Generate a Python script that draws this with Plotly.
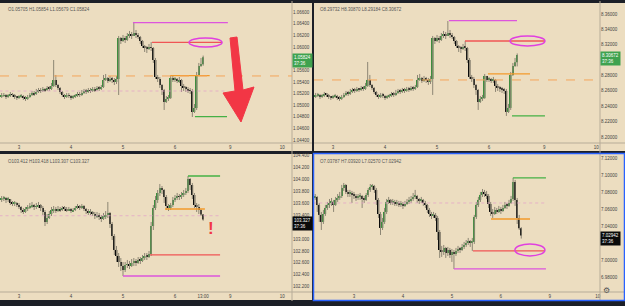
import plotly.graph_objects as go

W, H = 625, 306
def px(x): return x / W
def py(y): return 1 - y / H

BG = "#ECDDC0"
DARK = "#1c1f27"
AXLINE = "#B7AC98"
UP = "#3E8E3E"
DOWN = "#0a0a0a"
WICK = "#8d8674"
TXT = "#444444"
FONT = "Liberation Sans, Arial"

# ---------------- data ----------------
TL_HOURS = list(range(-8, 86))
TL_OPEN0 = 1.05141
TL_CLOSE = [1.05158, 1.05175, 1.05141, 1.05158, 1.05192, 1.05175, 1.05141, 1.05124, 1.05141, 1.05158,
            1.05124, 1.05106, 1.05141, 1.05175, 1.05210, 1.05192, 1.05227, 1.05261, 1.05244, 1.05279,
            1.05261, 1.05296, 1.05279, 1.05330, 1.05434, 1.05347, 1.05296, 1.05227, 1.05175, 1.05141,
            1.05175, 1.05158, 1.05124, 1.05141, 1.05158, 1.05192, 1.05175, 1.05210, 1.05244, 1.05227,
            1.05261, 1.05244, 1.05279, 1.05261, 1.05296, 1.05279, 1.05313, 1.05434, 1.05468, 1.05416,
            1.05451, 1.05434, 1.05399, 1.05451, 1.06157, 1.06106, 1.06157, 1.06123, 1.06192, 1.06226,
            1.06192, 1.06243, 1.06209, 1.06175, 1.06106, 1.06019, 1.05985, 1.05968, 1.06002, 1.05985,
            1.05778, 1.05485, 1.05451, 1.05347, 1.05261, 1.05055, 1.05106, 1.05124, 1.05468, 1.05434,
            1.05451, 1.05416, 1.05434, 1.05330, 1.05296, 1.05279, 1.05261, 1.05244, 1.04882, 1.04951,
            1.05520, 1.05675, 1.05705, 1.05824]
TL_HIGH = [1.05210, 1.05210, 1.05192, 1.05192, 1.05227, 1.05210, 1.05192, 1.05158, 1.05175, 1.05192,
           1.05175, 1.05158, 1.05175, 1.05210, 1.05244, 1.05244, 1.05279, 1.05296, 1.05296, 1.05313,
           1.05296, 1.05330, 1.05330, 1.05382, 1.05778, 1.05520, 1.05365, 1.05313, 1.05244, 1.05192,
           1.05210, 1.05210, 1.05175, 1.05175, 1.05192, 1.05227, 1.05227, 1.05261, 1.05279, 1.05279,
           1.05296, 1.05296, 1.05313, 1.05313, 1.05330, 1.05330, 1.05347, 1.05520, 1.05537, 1.05485,
           1.05503, 1.05485, 1.05468, 1.05503, 1.06192, 1.06175, 1.06209, 1.06192, 1.06243, 1.06278,
           1.06261, 1.06433, 1.06295, 1.06243, 1.06192, 1.06123, 1.06037, 1.06019, 1.06054, 1.06088,
           1.06002, 1.05813, 1.05520, 1.05485, 1.05365, 1.05279, 1.05158, 1.05175, 1.05503, 1.05503,
           1.05485, 1.05468, 1.05485, 1.05451, 1.05365, 1.05330, 1.05313, 1.05296, 1.05279, 1.05020,
           1.05572, 1.05727, 1.05813, 1.05854]
TL_LOW = [1.05124, 1.05141, 1.05106, 1.05124, 1.05141, 1.05141, 1.05106, 1.05089, 1.05106, 1.05124,
          1.05089, 1.05072, 1.05089, 1.05124, 1.05158, 1.05158, 1.05175, 1.05210, 1.05210, 1.05227,
          1.05227, 1.05244, 1.05244, 1.05261, 1.05313, 1.05313, 1.05261, 1.05192, 1.05141, 1.05106,
          1.05124, 1.05124, 1.05089, 1.05106, 1.05124, 1.05141, 1.05141, 1.05158, 1.05192, 1.05192,
          1.05210, 1.05210, 1.05227, 1.05227, 1.05244, 1.05244, 1.05261, 1.05296, 1.05416, 1.05382,
          1.05399, 1.05382, 1.05347, 1.05365, 1.05175, 1.06054, 1.06088, 1.06071, 1.06106, 1.06157,
          1.06140, 1.06192, 1.06157, 1.06140, 1.06054, 1.05985, 1.05916, 1.05899, 1.05950, 1.05933,
          1.05727, 1.05451, 1.05399, 1.05296, 1.05175, 1.04917, 1.05037, 1.05072, 1.05106, 1.05399,
          1.05399, 1.05382, 1.05382, 1.05227, 1.05244, 1.05227, 1.05210, 1.05192, 1.04796, 1.04865,
          1.04917, 1.05503, 1.05658, 1.05679]

TR_HOURS = list(range(-8, 86))
TR_OPEN0 = 8.2521
TR_CLOSE = [8.2534, 8.2547, 8.2521, 8.2534, 8.2560, 8.2547, 8.2521, 8.2508, 8.2521, 8.2534,
            8.2508, 8.2495, 8.2521, 8.2547, 8.2573, 8.2560, 8.2586, 8.2612, 8.2599, 8.2625,
            8.2612, 8.2638, 8.2625, 8.2664, 8.2742, 8.2677, 8.2638, 8.2586, 8.2547, 8.2521,
            8.2547, 8.2534, 8.2508, 8.2521, 8.2534, 8.2560, 8.2547, 8.2573, 8.2599, 8.2586,
            8.2612, 8.2599, 8.2625, 8.2612, 8.2638, 8.2625, 8.2651, 8.2742, 8.2768, 8.2729,
            8.2755, 8.2742, 8.2716, 8.2755, 8.3288, 8.3249, 8.3288, 8.3262, 8.3314, 8.3340,
            8.3314, 8.3353, 8.3327, 8.3301, 8.3249, 8.3184, 8.3158, 8.3145, 8.3171, 8.3158,
            8.3002, 8.2781, 8.2755, 8.2677, 8.2612, 8.2456, 8.2495, 8.2508, 8.2794, 8.2742,
            8.2755, 8.2729, 8.2742, 8.2664, 8.2638, 8.2625, 8.2612, 8.2599, 8.2326, 8.2378,
            8.2807, 8.2924, 8.29732, 8.30672]
TR_HIGH = [8.2573, 8.2573, 8.2560, 8.2560, 8.2586, 8.2573, 8.2560, 8.2534, 8.2547, 8.2560,
           8.2547, 8.2534, 8.2547, 8.2573, 8.2599, 8.2599, 8.2625, 8.2638, 8.2638, 8.2651,
           8.2638, 8.2664, 8.2664, 8.2703, 8.2976, 8.2807, 8.2690, 8.2651, 8.2599, 8.2560,
           8.2573, 8.2573, 8.2547, 8.2547, 8.2560, 8.2586, 8.2586, 8.2612, 8.2625, 8.2625,
           8.2638, 8.2638, 8.2651, 8.2651, 8.2664, 8.2664, 8.2677, 8.2807, 8.2820, 8.2781,
           8.2794, 8.2781, 8.2768, 8.2794, 8.3314, 8.3301, 8.3327, 8.3314, 8.3353, 8.3379,
           8.3366, 8.3509, 8.3392, 8.3353, 8.3314, 8.3262, 8.3197, 8.3184, 8.3210, 8.3249,
           8.3171, 8.3028, 8.2807, 8.2781, 8.2690, 8.2625, 8.2534, 8.2547, 8.2820, 8.2794,
           8.2781, 8.2768, 8.2781, 8.2755, 8.2690, 8.2664, 8.2651, 8.2638, 8.2625, 8.2430,
           8.2846, 8.2963, 8.3028, 8.30870]
TR_LOW = [8.2508, 8.2521, 8.2495, 8.2508, 8.2521, 8.2521, 8.2495, 8.2482, 8.2495, 8.2508,
          8.2482, 8.2469, 8.2482, 8.2508, 8.2534, 8.2534, 8.2547, 8.2573, 8.2573, 8.2586,
          8.2586, 8.2599, 8.2599, 8.2612, 8.2651, 8.2651, 8.2612, 8.2560, 8.2521, 8.2495,
          8.2508, 8.2508, 8.2482, 8.2495, 8.2508, 8.2521, 8.2521, 8.2534, 8.2560, 8.2560,
          8.2573, 8.2573, 8.2586, 8.2586, 8.2599, 8.2599, 8.2612, 8.2638, 8.2729, 8.2703,
          8.2716, 8.2703, 8.2677, 8.2690, 8.2547, 8.3210, 8.3236, 8.3223, 8.3249, 8.3288,
          8.3275, 8.3314, 8.3288, 8.3275, 8.3210, 8.3158, 8.3106, 8.3093, 8.3132, 8.3119,
          8.2963, 8.2755, 8.2716, 8.2638, 8.2547, 8.2352, 8.2443, 8.2469, 8.2495, 8.2716,
          8.2716, 8.2703, 8.2703, 8.2586, 8.2599, 8.2586, 8.2573, 8.2560, 8.2274, 8.2313,
          8.2352, 8.2794, 8.2911, 8.29184]

BL_HOURS = list(range(-8, 86))
BL_OPEN0 = 103.656
BL_CLOSE = [103.673, 103.690, 103.656, 103.673, 103.606, 103.589, 103.606, 103.572, 103.539, 103.488,
            103.455, 103.505, 103.522, 103.555, 103.572, 103.539, 103.555, 103.572, 103.522, 103.455,
            103.287, 103.354, 103.421, 103.488, 103.505, 103.471, 103.505, 103.488, 103.522, 103.505,
            103.488, 103.505, 103.471, 103.488, 103.522, 103.539, 103.522, 103.555, 103.505, 103.471,
            103.438, 103.455, 103.421, 103.387, 103.404, 103.371, 103.337, 103.387, 103.404, 103.438,
            103.253, 103.051, 102.817, 102.716, 102.615, 102.548, 102.481, 102.565, 102.581, 102.548,
            102.598, 102.615, 102.598, 102.649, 102.632, 102.682, 102.716, 102.699, 102.749, 103.219,
            103.522, 103.656, 103.774, 103.858, 103.824, 103.707, 103.555, 103.522, 103.572, 103.656,
            103.690, 103.723, 103.707, 103.740, 103.774, 103.807, 104.009, 103.908, 103.740, 103.572,
            103.539, 103.488, 103.412, 103.327]
BL_HIGH = [103.723, 103.723, 103.707, 103.707, 103.673, 103.639, 103.639, 103.623, 103.606, 103.555,
           103.522, 103.539, 103.572, 103.606, 103.623, 103.589, 103.606, 103.623, 103.589, 103.555,
           103.488, 103.421, 103.471, 103.539, 103.555, 103.539, 103.555, 103.539, 103.555, 103.555,
           103.539, 103.539, 103.522, 103.522, 103.555, 103.589, 103.572, 103.589, 103.572, 103.522,
           103.505, 103.505, 103.471, 103.455, 103.455, 103.438, 103.404, 103.438, 103.471, 103.623,
           103.455, 103.287, 103.085, 102.884, 102.766, 102.682, 102.615, 102.615, 102.649, 102.632,
           102.665, 102.682, 102.665, 102.699, 102.699, 102.733, 102.766, 102.766, 102.800, 103.287,
           103.572, 103.723, 103.824, 103.925, 103.891, 103.841, 103.740, 103.589, 103.606, 103.707,
           103.740, 103.774, 103.757, 103.791, 103.824, 103.858, 104.059, 104.025, 103.942, 103.774,
           103.606, 103.589, 103.505, 103.418]
BL_LOW = [103.623, 103.639, 103.606, 103.623, 103.572, 103.555, 103.555, 103.539, 103.505, 103.438,
          103.421, 103.438, 103.471, 103.505, 103.522, 103.488, 103.505, 103.522, 103.471, 103.404,
          103.219, 103.253, 103.337, 103.387, 103.438, 103.438, 103.455, 103.455, 103.471, 103.471,
          103.455, 103.471, 103.438, 103.455, 103.471, 103.505, 103.488, 103.505, 103.471, 103.421,
          103.404, 103.404, 103.387, 103.337, 103.354, 103.320, 103.287, 103.320, 103.337, 103.354,
          103.186, 102.984, 102.733, 102.615, 102.531, 102.464, 102.380, 102.447, 102.514, 102.497,
          102.531, 102.548, 102.548, 102.581, 102.581, 102.615, 102.649, 102.649, 102.682, 102.716,
          103.152, 103.488, 103.606, 103.723, 103.757, 103.606, 103.488, 103.471, 103.488, 103.539,
          103.623, 103.656, 103.656, 103.673, 103.707, 103.740, 103.774, 103.824, 103.673, 103.522,
          103.455, 103.421, 103.387, 103.307]

BR_HOURS = list(range(-19, 83))
BR_OPEN0 = 7.0736
BR_CLOSE = [7.0748, 7.0654, 7.0536, 7.0453, 7.0547, 7.0618, 7.0654, 7.0677, 7.0689, 7.0654,
            7.0713, 7.0736, 7.0760, 7.0854, 7.0890, 7.0807, 7.0783, 7.0795, 7.0772, 7.0760,
            7.0736, 7.0748, 7.0760, 7.0724, 7.0713, 7.0772, 7.0831, 7.0866, 7.0878, 7.0831,
            7.0713, 7.0547, 7.0382, 7.0453, 7.0571, 7.0689, 7.0713, 7.0677, 7.0689, 7.0665,
            7.0677, 7.0654, 7.0665, 7.0642, 7.0665, 7.0689, 7.0701, 7.0724, 7.0748, 7.0760,
            7.0724, 7.0701, 7.0713, 7.0677, 7.0654, 7.0595, 7.0547, 7.0524, 7.0536, 7.0500,
            7.0335, 7.0122, 7.0099, 7.0146, 7.0087, 7.0122, 7.0063, 7.0099, 7.0075, 7.0111,
            7.0134, 7.0122, 7.0158, 7.0181, 7.0205, 7.0229, 7.0205, 7.0217, 7.0512, 7.0654,
            7.0713, 7.0772, 7.0807, 7.0783, 7.0760, 7.0665, 7.0571, 7.0547, 7.0595, 7.0571,
            7.0606, 7.0583, 7.0618, 7.0654, 7.0642, 7.0677, 7.0724, 7.0925, 7.0713, 7.0500,
            7.03787, 7.02942]
BR_HIGH = [7.0783, 7.0760, 7.0677, 7.0571, 7.0595, 7.0654, 7.0689, 7.0724, 7.0736, 7.0713,
           7.0748, 7.0783, 7.0807, 7.0890, 7.0913, 7.0901, 7.0831, 7.0831, 7.0819, 7.0807,
           7.0783, 7.0783, 7.0795, 7.0772, 7.0760, 7.0795, 7.0854, 7.0901, 7.0901, 7.0890,
           7.0854, 7.0736, 7.0571, 7.0500, 7.0618, 7.0724, 7.0748, 7.0724, 7.0724, 7.0713,
           7.0713, 7.0701, 7.0701, 7.0689, 7.0701, 7.0724, 7.0748, 7.0760, 7.0795, 7.0831,
           7.0772, 7.0736, 7.0748, 7.0724, 7.0701, 7.0665, 7.0618, 7.0571, 7.0571, 7.0559,
           7.0524, 7.0358, 7.0170, 7.0181, 7.0158, 7.0158, 7.0146, 7.0134, 7.0122, 7.0146,
           7.0170, 7.0158, 7.0193, 7.0217, 7.0240, 7.0264, 7.0240, 7.0264, 7.0536, 7.0689,
           7.0748, 7.0807, 7.0842, 7.0831, 7.0819, 7.0783, 7.0689, 7.0606, 7.0630, 7.0618,
           7.0642, 7.0630, 7.0654, 7.0689, 7.0677, 7.0713, 7.0760, 7.0972, 7.0949, 7.0736,
           7.0536, 7.03920]
BR_LOW = [7.0713, 7.0571, 7.0453, 7.0358, 7.0429, 7.0524, 7.0595, 7.0618, 7.0642, 7.0571,
          7.0642, 7.0689, 7.0713, 7.0736, 7.0819, 7.0783, 7.0748, 7.0748, 7.0677, 7.0724,
          7.0701, 7.0713, 7.0713, 7.0618, 7.0677, 7.0701, 7.0748, 7.0807, 7.0831, 7.0795,
          7.0654, 7.0500, 7.0299, 7.0358, 7.0429, 7.0547, 7.0665, 7.0654, 7.0654, 7.0642,
          7.0642, 7.0630, 7.0630, 7.0606, 7.0630, 7.0654, 7.0665, 7.0677, 7.0701, 7.0724,
          7.0677, 7.0665, 7.0677, 7.0642, 7.0618, 7.0559, 7.0512, 7.0488, 7.0500, 7.0465,
          7.0240, 7.0028, 7.0040, 7.0063, 7.0028, 7.0052, 7.0028, 6.9981, 6.9898, 7.0052,
          7.0087, 7.0087, 7.0111, 7.0134, 7.0158, 7.0181, 7.0158, 7.0111, 7.0193, 7.0488,
          7.0630, 7.0689, 7.0748, 7.0748, 7.0724, 7.0618, 7.0524, 7.0500, 7.0536, 7.0547,
          7.0559, 7.0547, 7.0571, 7.0606, 7.0606, 7.0630, 7.0665, 7.0701, 7.0642, 7.0429,
          7.0358, 7.02570]

HEADERS = ["O1.05705 H1.05854 L1.05679 C1.05824",
           "O8.29732 H8.30870 L8.29184 C8.30672",
           "O103.412 H103.418 L103.307 C103.327",
           "O7.03787 H7.03920 L7.02570 C7.02942"]
LAST_LABELS = ["1.05824", "8.30672", "103.327", "7.02942"]
COUNTDOWN = "37:36"

# visible price-scale labels (those hidden by the last-price box are not shown)
TL_YTICKS = [1.044, 1.046, 1.048, 1.050, 1.052, 1.054, 1.056, 1.060, 1.062, 1.064, 1.066]
TR_YTICKS = [8.20, 8.22, 8.24, 8.26, 8.28, 8.32, 8.34, 8.36]
BL_YTICKS = [102.2, 102.4, 102.6, 102.8, 103.0, 103.4, 103.6, 103.8, 104.0, 104.2, 104.4]
BR_YTICKS = [6.98, 7.00, 7.04, 7.06, 7.08, 7.10, 7.12]

LEFT_XTICKS = [0, 24, 48, 72, 85, 97.5, 121.5]
LEFT_XLABELS = ["3", "4", "5", "6", "13:00", "9", "10"]
TOPL_XTICKS = [0, 24, 48, 72, 97.5, 121.5]
TOPL_XLABELS = ["3", "4", "5", "6", "9", "10"]
RIGHT_XTICKS = [0, 24, 48, 72, 96, 119.5]
RIGHT_XLABELS = ["3", "4", "5", "6", "9", "10"]

# drawings: (price, start hour, end hour, colour)
MAG, RED, ORG, GRN, PNK = "#DD55DD", "#F05555", "#F39A2B", "#45B045", "#E3A6C8"
TL_LINES = [(1.06421, 52.6, 96.4, MAG), (1.06083, 61.4, 93.7, RED), (1.05508, 69.7, 88.0, ORG),
            (1.04801, 81.2, 96.0, GRN), (1.05244, -9.0, 96.0, PNK)]
TR_LINES = [(8.3513, 53.5, 84.9, MAG), (8.3249, 60.9, 97.8, RED), (8.2820, 71.5, 90.9, ORG),
            (8.2274, 82.6, 97.8, GRN)]
BL_LINES = [(102.380, 48.0, 92.8, MAG), (102.733, 60.5, 92.8, RED), (103.505, 67.4, 85.8, ORG),
            (104.059, 78.0, 92.8, GRN), (103.392, -9.0, 92.8, PNK)]
BR_LINES = [(6.9898, 49.0, 94.1, MAG), (7.0111, 58.3, 93.6, RED), (7.0488, 67.2, 86.3, ORG),
            (7.0972, 77.9, 94.1, GRN), (7.0677, -20.0, 94.1, PNK)]
# ellipses: (x0, x1, y0, y1)
TL_ELLIPSE = (78.5, 93.7, 1.06002, 1.06157)
TR_ELLIPSE = (81.7, 97.8, 8.3184, 8.3314)
BR_ELLIPSE = (78.9, 93.6, 7.0052, 7.0193)
TL_DASH = 1.05503
TR_DASH = 8.2742

fig = go.Figure()

panels = [
    dict(n=1, hours=TL_HOURS, o0=TL_OPEN0, c=TL_CLOSE, h=TL_HIGH, l=TL_LOW,
         xdom=[0, 292], ydom=[3, 143], xr=[-8.77, 126.0], yr=[1.04348, 1.0676],
         yt=TL_YTICKS, fmt="{:.5f}", xt=TOPL_XTICKS, xl=TOPL_XLABELS, lines=TL_LINES,
         box="#3FA24F", hx=6, hy=9),
    dict(n=2, hours=TR_HOURS, o0=TR_OPEN0, c=TR_CLOSE, h=TR_HIGH, l=TR_LOW,
         xdom=[314, 600], ydom=[3, 143], xr=[-8.77, 123.2], yr=[8.1922, 8.3743],
         yt=TR_YTICKS, fmt="{:.5f}", xt=TOPL_XTICKS, xl=TOPL_XLABELS, lines=TR_LINES,
         box="#3FA24F", hx=318, hy=9),
    dict(n=3, hours=BL_HOURS, o0=BL_OPEN0, c=BL_CLOSE, h=BL_HIGH, l=BL_LOW,
         xdom=[0, 292], ydom=[154, 292], xr=[-8.77, 126.0], yr=[102.111, 104.4286],
         yt=BL_YTICKS, fmt="{:.3f}", xt=LEFT_XTICKS, xl=LEFT_XLABELS, lines=BL_LINES,
         box="#0a0a0a", hx=6, hy=161),
    dict(n=4, hours=BR_HOURS, o0=BR_OPEN0, c=BR_CLOSE, h=BR_HIGH, l=BR_LOW,
         xdom=[314, 600], ydom=[154, 292], xr=[-19.6, 120.6], yr=[6.9626, 7.1255],
         yt=BR_YTICKS, fmt="{:.5f}", xt=RIGHT_XTICKS, xl=RIGHT_XLABELS, lines=BR_LINES,
         box="#0a0a0a", hx=318, hy=161),
]

shapes = []
annotations = []

for (x0, y0, x1, y1) in [(0, 3, 312, 151), (314, 3, 625, 151), (0, 154, 312, 300), (314, 154, 625, 300)]:
    shapes.append(dict(type="rect", xref="paper", yref="paper", x0=px(x0), x1=px(x1), y0=py(y1), y1=py(y0),
                       fillcolor=BG, line=dict(width=0), layer="below"))

layout_axes = {}
for p in panels:
    n = p["n"]
    xa = "x" if n == 1 else f"x{n}"
    ya = "y" if n == 1 else f"y{n}"
    xk = "xaxis" if n == 1 else f"xaxis{n}"
    yk = "yaxis" if n == 1 else f"yaxis{n}"
    opens = [p["o0"]] + p["c"][:-1]
    wx, wy = [], []
    for t, hi, lo in zip(p["hours"], p["h"], p["l"]):
        wx += [t, t, None]
        wy += [lo, hi, None]
    fig.add_trace(go.Scatter(x=wx, y=wy, mode="lines", line=dict(color=WICK, width=1),
                             xaxis=xa, yaxis=ya, hoverinfo="skip", showlegend=False))
    minh = (p["yr"][1] - p["yr"][0]) * 0.005
    base = [min(a, b) for a, b in zip(opens, p["c"])]
    hgt = [max(abs(b - a), minh) for a, b in zip(opens, p["c"])]
    cols = [UP if b >= a else DOWN for a, b in zip(opens, p["c"])]
    fig.add_trace(go.Bar(x=p["hours"], y=hgt, base=base, width=0.72,
                         marker=dict(color=cols, line=dict(width=0)),
                         xaxis=xa, yaxis=ya, hoverinfo="skip", showlegend=False))
    x0, x1 = p["xdom"]
    y0, y1 = p["ydom"]
    layout_axes[xk] = dict(domain=[px(x0), px(x1)], range=p["xr"], anchor=ya, showgrid=False,
                           zeroline=False, showline=False, ticks="", tickvals=p["xt"], ticktext=p["xl"],
                           tickfont=dict(size=4.5, color=TXT, family=FONT), fixedrange=True)
    layout_axes[yk] = dict(domain=[py(y1), py(y0)], range=p["yr"], anchor=xa, side="right",
                           showgrid=False, zeroline=False, showline=False, ticks="",
                           tickvals=p["yt"], ticktext=[p["fmt"].format(v) for v in p["yt"]],
                           tickfont=dict(size=4.5, color=TXT, family=FONT), fixedrange=True)
    panel_right = 312 if x0 == 0 else 625
    shapes.append(dict(type="line", xref="paper", yref="paper", x0=px(x0), x1=px(panel_right),
                       y0=py(y1), y1=py(y1), line=dict(color=AXLINE, width=1)))
    shapes.append(dict(type="line", xref="paper", yref="paper", x0=px(x1), x1=px(x1),
                       y0=py(y0 - 2), y1=py(y1 + 9), line=dict(color=AXLINE, width=1)))
    for (lvl, hs, he, col) in p["lines"]:
        shapes.append(dict(type="line", xref=xa, yref=ya, x0=hs, x1=he, y0=lvl, y1=lvl,
                           line=dict(color=col, width=1.3 if col != PNK else 0.8,
                                     dash="solid" if col != PNK else "dot")))
    annotations.append(dict(xref="paper", yref="paper", x=px(p["hx"]), y=py(p["hy"]), text=HEADERS[n - 1],
                            showarrow=False, xanchor="left", yanchor="middle",
                            font=dict(size=4.5, color="#555555", family=FONT)))
    annotations.append(dict(xref="paper", yref=ya, x=px(x1), y=p["c"][-1],
                            text=LAST_LABELS[n - 1] + "<br>" + COUNTDOWN, showarrow=False,
                            xanchor="left", yanchor="top", yshift=4, align="left",
                            bgcolor=p["box"], borderpad=1,
                            font=dict(size=4.5, color="white", family=FONT)))

for el, xa, ya in [(TL_ELLIPSE, "x", "y"), (TR_ELLIPSE, "x2", "y2"), (BR_ELLIPSE, "x4", "y4")]:
    shapes.append(dict(type="circle", xref=xa, yref=ya, x0=el[0], x1=el[1], y0=el[2], y1=el[3],
                       line=dict(color="#E040E0", width=1.5)))

for lvl, xa, ya in [(TL_DASH, "x", "y"), (TR_DASH, "x2", "y2")]:
    shapes.append(dict(type="line", xref=xa + " domain", yref=ya, x0=0, x1=1, y0=lvl, y1=lvl,
                       line=dict(color="#F5A55A", width=1, dash="dash")))

arrow = [(230, 38), (237, 37), (243, 90), (254, 87), (241, 122), (223, 93), (235, 91)]
path = "M " + " L ".join(f"{px(a):.5f},{py(b):.5f}" for a, b in arrow) + " Z"
shapes.append(dict(type="path", xref="paper", yref="paper", path=path, fillcolor="#F23645",
                   line=dict(color="#F23645", width=1)))
annotations.append(dict(xref="paper", yref="paper", x=px(206), y=py(240), text="<b>!</b>", showarrow=False,
                        font=dict(size=17, color="#F23645", family=FONT)))
annotations.append(dict(xref="paper", yref="paper", x=px(612), y=py(296.5), text="⚙", showarrow=False,
                        font=dict(size=8, color="#555555")))

shapes.append(dict(type="rect", xref="paper", yref="paper", x0=px(313.5), x1=px(624.5), y0=py(300.5), y1=py(153.5),
                   line=dict(color="#2962FF", width=1.5)))

fig.update_layout(width=W, height=H, margin=dict(l=0, r=0, t=0, b=0), paper_bgcolor=DARK,
                  plot_bgcolor="rgba(0,0,0,0)", showlegend=False, barmode="overlay",
                  shapes=shapes, annotations=annotations, **layout_axes)
fig.write_html("out.html")
